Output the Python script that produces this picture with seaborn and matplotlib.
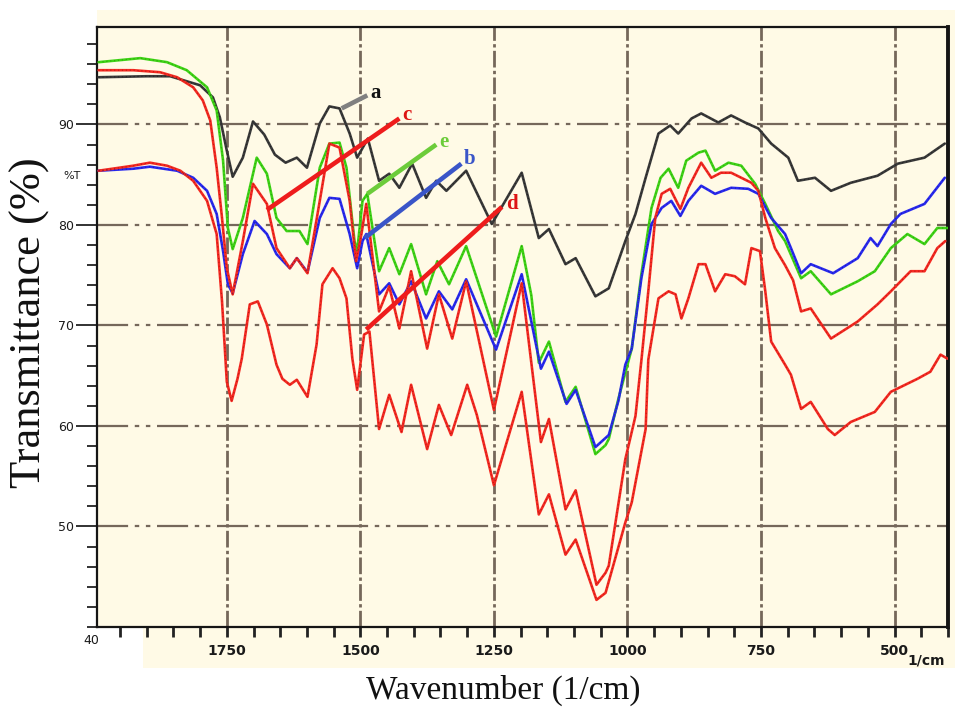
import matplotlib
matplotlib.use("Agg")
import matplotlib.pyplot as plt
import seaborn as sns
from matplotlib.patches import Rectangle
from matplotlib.ticker import FixedLocator, MultipleLocator

# ---- FTIR spectra (wavenumber in 1/cm, transmittance in %) ----
a_wn = [1990, 1900, 1856, 1800, 1776, 1763, 1750, 1739, 1720, 1701,
        1680, 1660, 1640, 1619, 1600, 1576, 1558, 1539, 1520, 1506,
        1486, 1465, 1446, 1427, 1403, 1377, 1358, 1339, 1302, 1254,
        1198, 1166, 1147, 1116, 1097, 1060, 1035, 1004, 985, 966,
        942, 920, 905, 880, 862, 830, 806, 780, 755, 731,
        699, 681, 649, 619, 582, 532, 494, 444, 406]
a_T = [94.7, 94.8, 94.8, 93.9, 92.7, 90.7, 87.4, 84.8, 86.7, 90.3,
       89.0, 87.0, 86.2, 86.7, 85.7, 90.1, 91.8, 91.6, 89.1, 86.7,
       88.6, 84.4, 85.1, 83.7, 86.1, 82.7, 84.4, 83.4, 85.4, 80.1,
       85.2, 78.7, 79.6, 76.1, 76.7, 72.9, 73.7, 78.4, 81.1, 84.7,
       89.1, 89.9, 89.1, 90.6, 91.1, 90.2, 90.9, 90.2, 89.6, 88.1,
       86.7, 84.4, 84.7, 83.4, 84.2, 84.9, 86.1, 86.7, 88.1]

b_wn = [1990, 1925, 1894, 1843, 1813, 1787, 1769, 1757, 1748, 1739,
        1720, 1698, 1675, 1657, 1632, 1619, 1599, 1576, 1558, 1539,
        1520, 1506, 1496, 1489, 1465, 1446, 1427, 1405, 1377, 1353,
        1328, 1302, 1246, 1198, 1162, 1147, 1114, 1097, 1060, 1035,
        1017, 1004, 992, 974, 955, 936, 918, 901, 886, 862,
        836, 806, 774, 755, 731, 705, 694, 675, 657, 615,
        569, 545, 532, 507, 489, 444, 406]
b_T = [85.4, 85.6, 85.8, 85.4, 84.7, 83.4, 81.1, 77.4, 74.1, 73.2,
       77.1, 80.4, 79.1, 77.1, 75.7, 76.7, 75.3, 80.7, 82.7, 82.6,
       79.1, 75.7, 78.4, 79.1, 73.1, 74.2, 72.1, 74.4, 70.7, 73.4,
       71.6, 74.6, 67.6, 75.1, 65.7, 67.4, 62.2, 63.6, 57.9, 59.1,
       62.5, 66.1, 67.7, 74.7, 80.1, 81.7, 82.4, 80.9, 82.4, 83.9,
       83.1, 83.7, 83.6, 83.1, 80.7, 79.1, 77.7, 75.2, 76.1, 75.2,
       76.7, 78.7, 77.9, 80.1, 81.1, 82.1, 84.7]

c_wn = [1990, 1925, 1875, 1843, 1813, 1795, 1781, 1769, 1759, 1750,
        1739, 1720, 1701, 1675, 1657, 1632, 1619, 1599, 1576, 1558,
        1539, 1520, 1508, 1498, 1489, 1465, 1446, 1427, 1405, 1375,
        1353, 1328, 1302, 1250, 1198, 1162, 1147, 1116, 1097, 1058,
        1041, 1035, 1004, 985, 974, 961, 948, 936, 920, 901,
        886, 862, 843, 825, 806, 787, 768, 755, 742, 724,
        705, 690, 675, 657, 619, 569, 532, 507, 470, 444,
        420, 405]
c_T = [95.4, 95.4, 95.2, 94.7, 93.7, 92.4, 90.4, 85.7, 80.7, 75.7,
       73.1, 78.4, 84.1, 82.1, 77.7, 75.7, 76.7, 75.2, 82.4, 88.1,
       87.7, 82.4, 76.4, 79.1, 82.1, 71.4, 73.9, 69.7, 75.4, 67.7,
       73.1, 68.7, 74.4, 61.6, 74.2, 58.4, 60.7, 51.7, 53.6, 44.2,
       45.4, 46.1, 56.7, 61.0, 66.5, 73.4, 80.7, 83.1, 83.6, 81.6,
       83.7, 86.2, 84.7, 85.2, 85.2, 84.7, 84.2, 83.4, 80.7, 77.7,
       76.0, 74.5, 71.4, 71.7, 68.7, 70.4, 72.1, 73.4, 75.4, 75.4,
       77.7, 78.4]

d_wn = [1990, 1925, 1894, 1862, 1837, 1813, 1787, 1769, 1759, 1750,
        1741, 1730, 1722, 1707, 1692, 1675, 1657, 1646, 1632, 1619,
        1599, 1582, 1571, 1552, 1539, 1526, 1515, 1506, 1493, 1483,
        1465, 1446, 1423, 1405, 1375, 1353, 1330, 1300, 1282, 1250,
        1198, 1166, 1147, 1116, 1097, 1058, 1041, 1004, 992, 966,
        961, 942, 923, 910, 899, 886, 867, 854, 836, 817,
        799, 780, 768, 752, 742, 731, 705, 694, 675, 657,
        625, 612, 582, 537, 507, 457, 433, 414, 401]
d_T = [85.4, 85.9, 86.2, 85.9, 85.4, 84.4, 82.4, 79.1, 72.4, 64.4,
       62.5, 64.7, 66.7, 72.1, 72.4, 70.1, 66.1, 64.7, 64.1, 64.6,
       62.9, 68.1, 74.1, 75.7, 74.7, 72.7, 66.7, 63.6, 69.1, 69.4,
       59.7, 63.1, 59.4, 64.1, 57.7, 62.1, 59.1, 64.1, 61.1, 54.1,
       63.4, 51.2, 53.2, 47.2, 48.7, 42.7, 43.4, 50.4, 52.4, 59.7,
       66.6, 72.7, 73.4, 73.1, 70.7, 72.7, 76.1, 76.1, 73.4, 75.1,
       74.9, 74.1, 77.7, 77.4, 73.4, 68.4, 66.1, 65.1, 61.7, 62.4,
       59.7, 59.1, 60.4, 61.4, 63.4, 64.7, 65.4, 67.1, 66.7]

e_wn = [1990, 1912, 1862, 1825, 1787, 1769, 1757, 1748, 1739, 1720,
        1694, 1675, 1657, 1638, 1614, 1599, 1576, 1558, 1539, 1526,
        1511, 1506, 1496, 1487, 1465, 1446, 1427, 1405, 1377, 1356,
        1334, 1302, 1246, 1198, 1180, 1166, 1147, 1116, 1097, 1060,
        1041, 1035, 1017, 992, 974, 955, 938, 923, 905, 890,
        867, 854, 836, 811, 787, 761, 742, 718, 705, 675,
        657, 619, 569, 537, 507, 476, 444, 420, 401]
e_T = [96.2, 96.6, 96.2, 95.4, 93.7, 91.4, 86.4, 79.7, 77.6, 80.7,
       86.7, 85.1, 80.7, 79.4, 79.4, 78.1, 85.7, 88.1, 88.2, 85.7,
       78.4, 77.4, 82.4, 83.1, 75.4, 77.7, 75.1, 78.1, 73.1, 76.4,
       74.1, 77.9, 68.9, 77.9, 73.0, 66.3, 68.4, 62.4, 63.9, 57.2,
       58.1, 58.7, 62.7, 67.7, 75.1, 81.7, 84.7, 85.6, 83.7, 86.4,
       87.2, 87.4, 85.4, 86.2, 85.9, 84.1, 82.1, 79.4, 78.4, 74.7,
       75.4, 73.1, 74.4, 75.4, 77.7, 79.1, 78.1, 79.7, 79.7]

# curve labels: (name, leader start, leader end, text position)
tag_names = ["a", "c", "e", "b", "d"]
tag_start = [(1535, 91.6), (1675, 81.5), (1487, 83.1), (1492, 78.7), (1489, 69.6)]
tag_end = [(1487, 92.9), (1427, 90.6), (1358, 88.0), (1311, 86.1), (1235, 81.8)]
tag_text = [(1481, 93.1), (1422, 90.9), (1352, 88.3), (1307, 86.6), (1228, 82.1)]

x_major = [1750, 1500, 1250, 1000, 750, 500]
y_major = [50, 60, 70, 80, 90]

CREAM = "#fffae6"
GRID = "#75675a"
curves = [
    (a_wn, a_T, "#3a3a3a", "#111111"),
    (e_wn, e_T, "#3fd416", "#1d7a05"),
    (b_wn, b_T, "#2a2af0", "#101080"),
    (c_wn, c_T, "#f52a22", "#8a0d0a"),
    (d_wn, d_T, "#f52a22", "#8a0d0a"),
]
tag_line_colors = ["#808080", "#ee1c1c", "#6ccc3a", "#3a55c8", "#ee1c1c"]
tag_text_colors = ["#111111", "#dd1515", "#6ccc3a", "#3a55c8", "#dd1515"]

sns.set_theme(style="white")
plt.rcParams["font.family"] = ["DejaVu Sans"]

W, H = 959, 709
fig = plt.figure(figsize=(W / 100, H / 100), dpi=100)
fig.patch.set_facecolor("white")


def fx(px):
    return px / W


def fy(py):
    return 1 - py / H


# instrument-style cream panel around the plotting area (behind the axes)
fig.patches.append(Rectangle((fx(97), fy(627)), fx(955) - fx(97), fy(10) - fy(627),
                             transform=fig.transFigure, facecolor=CREAM,
                             edgecolor="none", zorder=-5))
fig.patches.append(Rectangle((fx(143), fy(668)), fx(955) - fx(143), fy(627) - fy(668),
                             transform=fig.transFigure, facecolor=CREAM,
                             edgecolor="none", zorder=-5))

ax = fig.add_axes([fx(97), fy(627), fx(948) - fx(97), fy(27) - fy(627)])
ax.set_zorder(2)
ax.set_facecolor(CREAM)

for wn, tr, col, dark in curves:
    sns.lineplot(x=wn, y=tr, ax=ax, color=col, lw=1.9, sort=False,
                 estimator=None, zorder=3, solid_joinstyle="round")
    ax.plot(wn, tr, color=dark, lw=0.8, ls=(0, (1, 2.5)), alpha=0.55, zorder=4)

for name, p0, p1, pt, lc, tc in zip(tag_names, tag_start, tag_end, tag_text,
                                     tag_line_colors, tag_text_colors):
    ax.plot([p0[0], p1[0]], [p0[1], p1[1]], color=lc, lw=3.3,
            solid_capstyle="butt", zorder=6)
    ax.text(pt[0], pt[1], name, color=tc, fontsize=15, family="Liberation Serif",
            fontweight="bold", ha="left", va="center", zorder=7)

ax.set_xlim(1993, 400)
ax.set_ylim(40, 99.7)

ax.xaxis.set_major_locator(FixedLocator(x_major))
ax.xaxis.set_minor_locator(MultipleLocator(50))
ax.yaxis.set_major_locator(FixedLocator(y_major))
ax.yaxis.set_minor_locator(MultipleLocator(2))

ax.grid(False)
for xv in x_major:
    ax.axvline(xv, color=GRID, lw=2.0, ls=(0, (6, 1.2, 1.2, 1.2)), zorder=1)
for yv in y_major:
    ax.axhline(yv, color=GRID, lw=1.6, ls=(0, (14, 3, 2, 3, 2, 3)), zorder=1)

ax.set_xticklabels([str(v) for v in x_major], fontsize=10, fontweight="bold",
                   color="#1a1a1a")
ax.set_yticklabels([str(v) for v in y_major], fontsize=9,
                   family=["Liberation Sans Narrow", "DejaVu Sans"], color="#1a1a1a")
ax.tick_params(axis="x", which="both", direction="out", length=7, width=2,
               color="#222222", pad=5, bottom=True)
ax.tick_params(axis="y", which="major", direction="out", length=15, width=1.3,
               color="#222222", pad=1.5, left=True)
ax.tick_params(axis="y", which="minor", direction="out", length=7, width=1.3,
               color="#222222", left=True)

for side in ["left", "bottom", "top"]:
    ax.spines[side].set_visible(True)
    ax.spines[side].set_color("#151515")
    ax.spines[side].set_linewidth(1.6)
ax.spines["right"].set_visible(True)
ax.spines["right"].set_color("#151515")
ax.spines["right"].set_linewidth(2.8)

ax.set_xlabel("")
ax.set_ylabel("")

fig.text(fx(72), fy(176), "%T", fontsize=8, ha="center", va="center",
         family=["Liberation Sans Narrow", "DejaVu Sans"], color="#1a1a1a")
fig.text(fx(91), fy(640), "40", fontsize=9, ha="center", va="center",
         family=["Liberation Sans Narrow", "DejaVu Sans"], color="#1a1a1a")
fig.text(fx(926), fy(661), "1/cm", fontsize=10, fontweight="bold",
         ha="center", va="center", color="#1a1a1a")

fig.text(fx(30), fy(323), "Transmittance (%)", rotation=90, fontsize=32,
         family="Liberation Serif", ha="center", va="center", color="#111111")
fig.text(fx(503), fy(690), "Wavenumber (1/cm)", fontsize=24,
         family="Liberation Serif", ha="center", va="center", color="#111111")

fig.savefig("out.png", dpi=100, facecolor="white")
